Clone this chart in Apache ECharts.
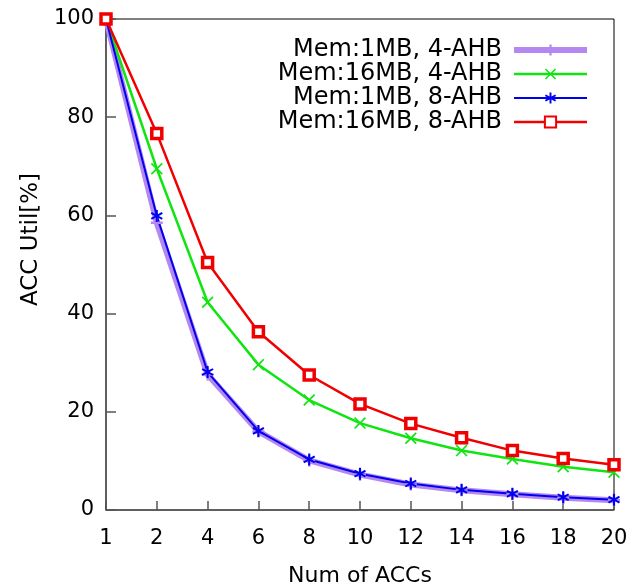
<!DOCTYPE html>
<html>
<head>
<meta charset="utf-8">
<script src="https://cdn.jsdelivr.net/npm/echarts@6/dist/echarts.min.js"></script>
<style>
  html, body { margin: 0; padding: 0; background: #fff; }
  #chart { width: 639px; height: 587px; }
</style>
</head>
<body>
<div id="chart"></div>
<script>
const numAccs = ['1', '2', '4', '6', '8', '10', '12', '14', '16', '18', '20'];
const mem1mb4ahb = [100, 58.5, 27.6, 16.0, 10.1, 7.2, 5.2, 4.0, 3.2, 2.5, 2.0];
const mem16mb4ahb = [100, 69.5, 42.3, 29.6, 22.4, 17.7, 14.6, 12.1, 10.4, 8.8, 7.7];
const mem1mb8ahb = [100, 59.9, 28.1, 16.1, 10.3, 7.4, 5.4, 4.1, 3.3, 2.6, 2.1];
const mem16mb8ahb = [100, 76.7, 50.4, 36.3, 27.5, 21.6, 17.6, 14.7, 12.1, 10.5, 9.2];

const plusPath = 'path://M4,0H6V4H10V6H6V10H4V6H0V4H4Z';
const crossPath = 'path://M0,1L1,0L5,4L9,0L10,1L6,5L10,9L9,10L5,6L1,10L0,9L4,5Z';
const starPath = 'path://M4.2,0H5.8V3.6L8.9,1.8L9.7,3.2L6.6,5L9.7,6.8L8.9,8.2L5.8,6.4V10H4.2V6.4L1.1,8.2L0.3,6.8L3.4,5L0.3,3.2L1.1,1.8L4.2,3.6Z';

const font = 'DejaVu Sans';
const purple = '#b488f0', green = '#11e511', blue = '#0000f0', red = '#f00000';
const chart = echarts.init(document.getElementById('chart'));

chart.setOption({
  animation: false,
  backgroundColor: '#fff',
  grid: {
    left: 106, right: 25, top: 19, bottom: 77,
    outerBoundsMode: 'none',
    containLabel: false,
    show: true, borderColor: '#000', borderWidth: 1
  },
  legend: {
    orient: 'vertical',
    right: 44,
    top: 33,
    align: 'right',
    itemWidth: 73,
    itemHeight: 14,
    itemGap: 0,
    textStyle: { fontFamily: font, fontSize: 24, lineHeight: 24, color: '#000', padding: [0, 7, 0, 0] },
    data: [
      { name: 'Mem:1MB, 4-AHB', lineStyle: { width: 6, color: purple } },
      { name: 'Mem:16MB, 4-AHB', lineStyle: { width: 2.5, color: green } },
      { name: 'Mem:1MB, 8-AHB', lineStyle: { width: 2, color: blue } },
      { name: 'Mem:16MB, 8-AHB', lineStyle: { width: 2.5, color: red } }
    ]
  },
  xAxis: {
    type: 'category',
    data: numAccs,
    boundaryGap: false,
    name: 'Num of ACCs',
    nameLocation: 'middle',
    nameGap: 55,
    nameTextStyle: { fontFamily: font, fontSize: 22, color: '#000' },
    axisLine: { lineStyle: { color: '#555', width: 1.5 } },
    axisTick: { inside: true, length: 9, lineStyle: { color: '#555', width: 1.5 } },
    axisLabel: { fontFamily: font, fontSize: 21, color: '#000', margin: 18 },
    splitLine: { show: false }
  },
  yAxis: {
    type: 'value',
    min: 0, max: 100, interval: 20,
    name: 'ACC Util[%]',
    nameLocation: 'middle',
    nameGap: 56,
    nameTextStyle: { fontFamily: font, fontSize: 23, color: '#000', padding: [0, 0, 0, 50] },
    axisLine: { show: true, lineStyle: { color: '#555', width: 1.5 } },
    axisTick: { show: true, inside: true, length: 10, lineStyle: { color: '#555', width: 1.5 } },
    axisLabel: { fontFamily: font, fontSize: 21, color: '#000', margin: 12 },
    splitLine: { show: false }
  },
  series: [
    {
      name: 'Mem:1MB, 4-AHB', type: 'line', data: mem1mb4ahb,
      symbol: plusPath, symbolSize: 12,
      lineStyle: { color: purple, width: 6 },
      itemStyle: { color: purple }
    },
    {
      name: 'Mem:16MB, 4-AHB', type: 'line', data: mem16mb4ahb,
      symbol: crossPath, symbolSize: 12,
      lineStyle: { color: green, width: 2.5 },
      itemStyle: { color: green }
    },
    {
      name: 'Mem:1MB, 8-AHB', type: 'line', data: mem1mb8ahb,
      symbol: starPath, symbolSize: 12,
      lineStyle: { color: blue, width: 2 },
      itemStyle: { color: blue }
    },
    {
      name: 'Mem:16MB, 8-AHB', type: 'line', data: mem16mb8ahb,
      symbol: 'rect', symbolSize: 10,
      lineStyle: { color: red, width: 2.5 },
      itemStyle: { color: '#fff', borderColor: red, borderWidth: 3.5 }
    }
  ]
});
</script>
</body>
</html>
